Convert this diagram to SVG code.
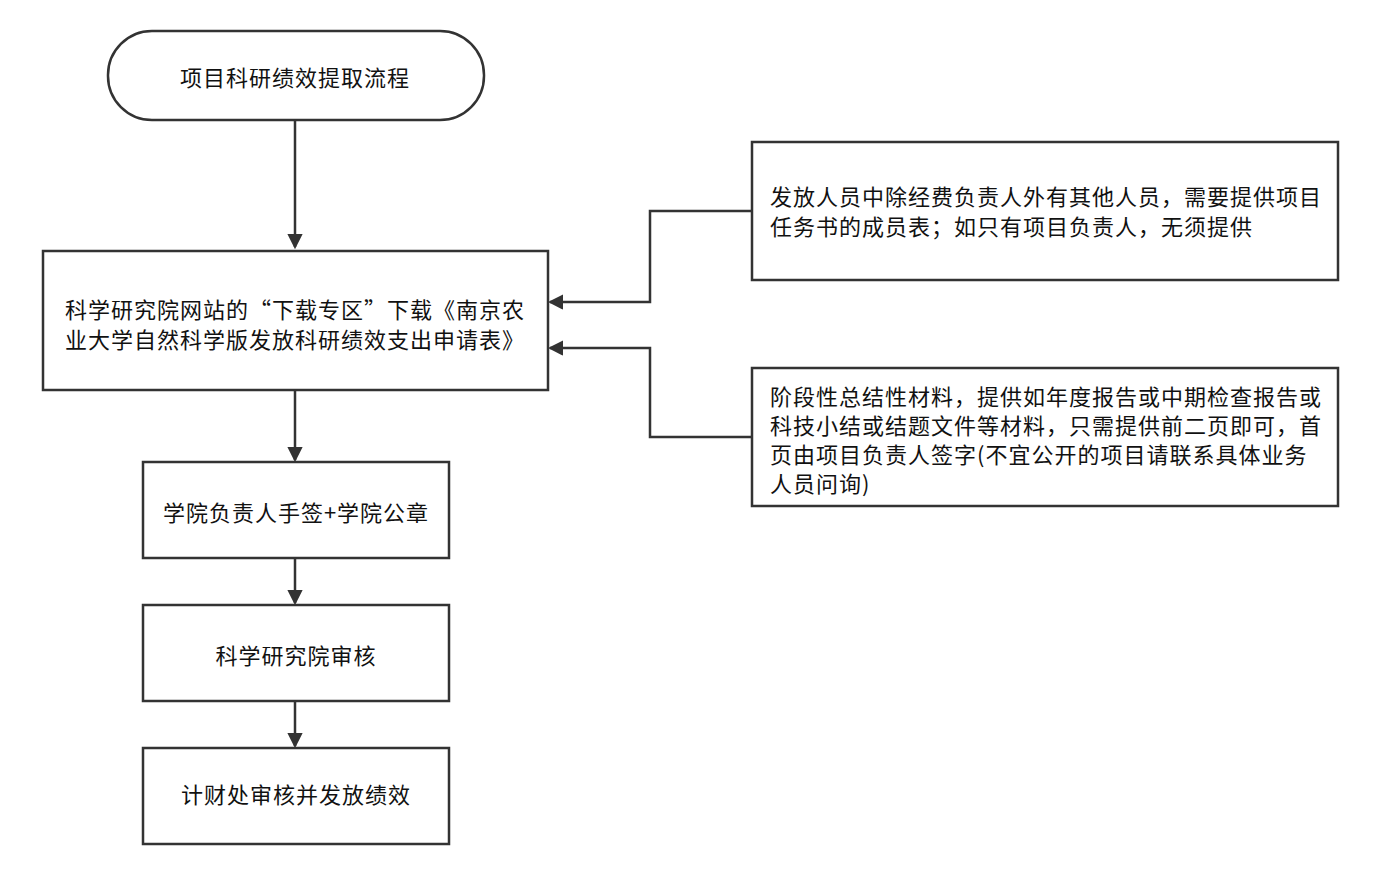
<svg xmlns="http://www.w3.org/2000/svg" width="1384" height="876" viewBox="0 0 1384 876">
<defs>
<style>
.box{fill:#fff;stroke:#333;stroke-width:2.5}
.t{font-family:"Noto Sans CJK SC","Noto Sans",sans-serif;font-size:22px;letter-spacing:1px;fill:#111}
.c{text-anchor:middle}
.ln{fill:none;stroke:#333;stroke-width:2.5}
</style>
<marker id="ah" viewBox="0 0 16 16" refX="14" refY="8" markerWidth="16" markerHeight="16" markerUnits="userSpaceOnUse" orient="auto">
<path d="M2,2 L14,8 L2,14 Z" fill="#333" stroke="#333" stroke-width="2" stroke-linejoin="miter"/>
</marker>
</defs>
<rect width="1384" height="876" fill="#fff"/>
<g id="start">
<rect class="box" x="108" y="31" width="376" height="89" rx="44" ry="44"/>
<text class="t c" x="295" y="86">项目科研绩效提取流程</text>
</g>
<g id="download">
<rect class="box" x="43" y="251" width="505" height="139"/>
<text class="t" x="65" y="318">科学研究院网站的“下载专区”下载《南京农</text>
<text class="t" x="65" y="348">业大学自然科学版发放科研绩效支出申请表》</text>
</g>
<g id="sign">
<rect class="box" x="143" y="462" width="306" height="96"/>
<text class="t c" x="296" y="521">学院负责人手签+学院公章</text>
</g>
<g id="review">
<rect class="box" x="143" y="605" width="306" height="96"/>
<text class="t c" x="296" y="664">科学研究院审核</text>
</g>
<g id="pay">
<rect class="box" x="143" y="748" width="306" height="96"/>
<text class="t c" x="296" y="803">计财处审核并发放绩效</text>
</g>
<g id="note1">
<rect class="box" x="752" y="142" width="586" height="138"/>
<text class="t" x="770" y="205">发放人员中除经费负责人外有其他人员，需要提供项目</text>
<text class="t" x="770" y="235">任务书的成员表；如只有项目负责人，无须提供</text>
</g>
<g id="note2">
<rect class="box" x="752" y="368" width="586" height="138"/>
<text class="t" x="770" y="405">阶段性总结性材料，提供如年度报告或中期检查报告或</text>
<text class="t" x="770" y="434">科技小结或结题文件等材料，只需提供前二页即可，首</text>
<text class="t" x="770" y="463">页由项目负责人签字(不宜公开的项目请联系具体业务</text>
<text class="t" x="770" y="492">人员问询)</text>
</g>
<g id="connectors">
<path class="ln" d="M295,120 V247" marker-end="url(#ah)"/>
<path class="ln" d="M295,390 V460" marker-end="url(#ah)"/>
<path class="ln" d="M295,558 V603" marker-end="url(#ah)"/>
<path class="ln" d="M295,701 V746" marker-end="url(#ah)"/>
<path class="ln" d="M752,211 H650 V302 H550" marker-end="url(#ah)"/>
<path class="ln" d="M752,437 H650 V348 H550" marker-end="url(#ah)"/>
</g>
</svg>
